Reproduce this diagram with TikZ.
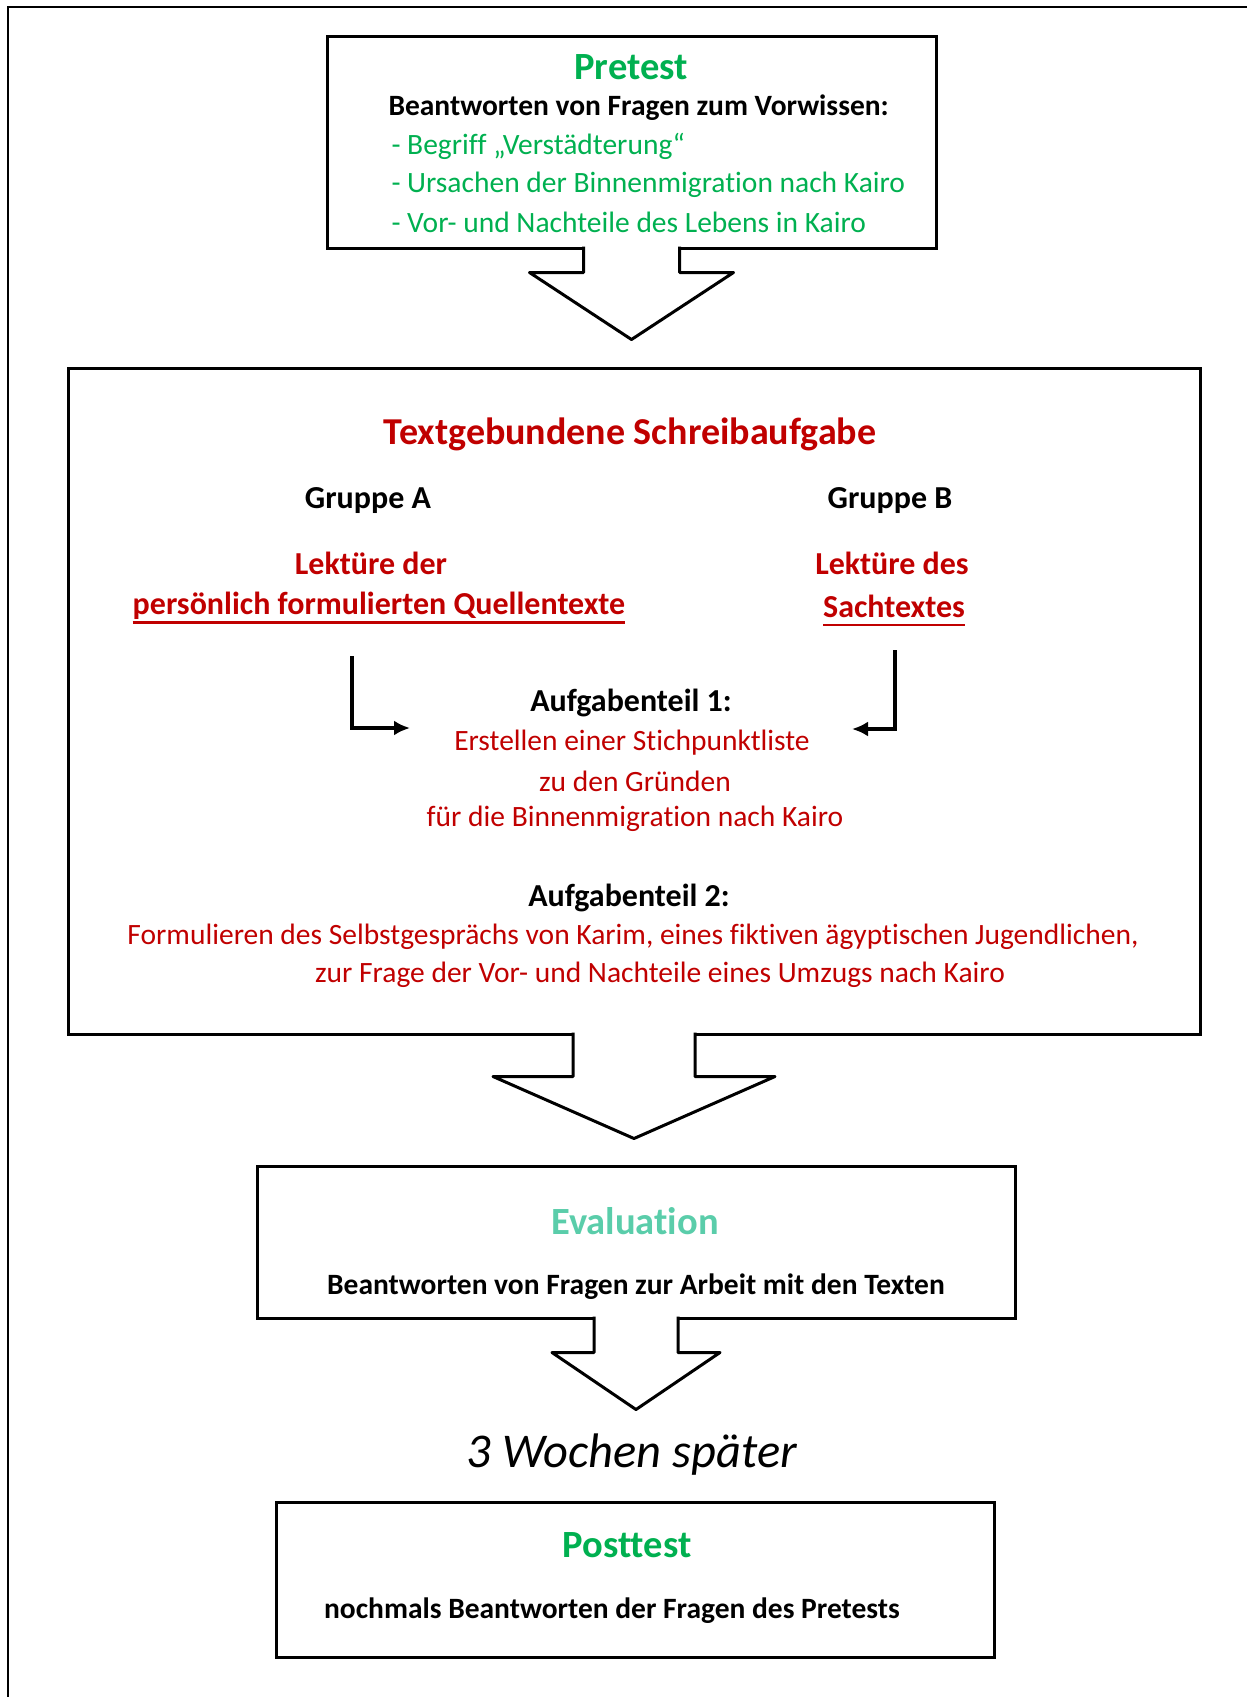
\documentclass[tikz,border=0pt]{standalone}
\usepackage{fontspec}
\setmainfont{Carlito}[Ligatures=NoCommon]
\usetikzlibrary{arrows.meta, positioning, calc}

\definecolor{grn}{RGB}{0,176,80}
\definecolor{rd}{RGB}{192,0,0}
\definecolor{evalgrn}{RGB}{90,205,170}

% block arrow under a box: box, half stem, half head, stem length, tip depth
\newcommand{\blockarrow}[5]{%
  \filldraw[bigarrow] ($(#1.south)+(-#2,-3)$) -- ++(0,#4+3)
    -- ($(#1.south)+(-#3,#4)$) -- ($(#1.south)+(0,#5)$)
    -- ($(#1.south)+(#3,#4)$) -- ($(#1.south)+(#2,#4)$) -- ++(0,-#4-3);}
% thick underline, set low like in the word processor
\newcommand{\ulined}[1]{\setbox0\hbox{#1}%
  \rlap{\smash{\rule[-9pt]{\wd0}{2.6pt}}}\box0}

\begin{document}
\begin{tikzpicture}[x=1pt,y=-1pt,
  box/.style={draw, line width=3pt, inner sep=0pt},
  bigarrow/.style={draw, fill=white, line width=3pt, line join=round},
  title/.style={font=\fontsize{38.5}{46}\selectfont\bfseries},
  head/.style={font=\fontsize{38}{46}\selectfont\bfseries},
  txt/.style={font=\fontsize{29.5}{35}\selectfont},
  btxt/.style={font=\fontsize{29.5}{35}\selectfont\bfseries},
  gtxt/.style={font=\fontsize{32}{38}\selectfont\bfseries},
  elbow/.style={line width=3.3pt, -{Latex[length=16pt,width=15pt]}}]

  \useasboundingbox (0,0) rectangle (1247,1697);
  \draw[line width=2pt] (8,1697) -- (8,7) -- (1247,7);

  % boxes
  \node[box, minimum width=609pt, minimum height=212pt] (pretest) at (631.5,142) {};
  \node[box, minimum width=1132pt, minimum height=666pt] (task) at (634,701) {};
  \node[box, minimum width=758pt, minimum height=152pt] (evaluation) at (636,1242) {};
  \node[box, minimum width=718pt, minimum height=155pt] (posttest) at (635,1580) {};

  \blockarrow{pretest}{48}{102}{23}{90}
  \blockarrow{task}{61}{141}{41}{103}
  \blockarrow{evaluation}{42}{84}{33}{90}

  % pretest
  \node[title, grn] (pretitle) at (631,67) {Pretest};
  \node[btxt, anchor=west] (vorwissen) at (385,108) {Beantworten von Fragen zum Vorwissen:};
  \node[txt, grn, anchor=west] (item1) at (388,146) {- Begriff „Verstädterung“};
  \node[txt, grn, anchor=west] (item2) at (388,185) {- Ursachen der Binnenmigration nach Kairo};
  \node[txt, grn, anchor=west] (item3) at (388,222) {- Vor- und Nachteile des Lebens in Kairo};

  % schreibaufgabe
  \node[head, rd] (tasktitle) at (630,434) {Textgebundene Schreibaufgabe};
  \node[gtxt] (gruppeA) at (368,501) {Gruppe A};
  \node[gtxt] (gruppeB) at (890,501) {Gruppe B};
  \node[gtxt, rd] (lektA) at (371,563) {Lektüre der};
  \node[gtxt, rd] (quellen) at (379,606) {\ulined{persönlich formulierten Quellentexte}};
  \node[gtxt, rd] (lektB) at (892,563) {Lektüre des};
  \node[gtxt, rd] (sach) at (894,606) {\ulined{Sachtextes}};

  \node[gtxt] (teil1) at (631,703) {Aufgabenteil 1:};
  \node[txt, rd] (stich) at (632,743) {Erstellen einer Stichpunktliste};
  \node[txt, rd] (gruende) at (635,781) {zu den Gründen};
  \node[txt, rd] (binnen) at (635,819) {für die Binnenmigration nach Kairo};

  \coordinate (la) at (352,656);
  \coordinate (lb) at (410,728);
  \coordinate (ra) at (895,650);
  \coordinate (rb) at (852,729);
  \draw[elbow] (la) |- (lb);
  \draw[elbow] (ra) |- (rb);

  \node[gtxt] (teil2) at (629,898) {Aufgabenteil 2:};
  \node[txt, rd] (karim) at (633,937) {Formulieren des Selbstgesprächs von Karim, eines fiktiven ägyptischen Jugendlichen,};
  \node[txt, rd] (umzug) at (660,975) {zur Frage der Vor- und Nachteile eines Umzugs nach Kairo};

  % evaluation
  \node[title, evalgrn] (evaltitle) at (635,1221) {Evaluation};
  \node[btxt] (arbeit) at (636,1287) {Beantworten von Fragen zur Arbeit mit den Texten};

  \node[font=\fontsize{48.5}{56}\selectfont\itshape] (wochen) at (632,1455) {3 Wochen später};

  % posttest
  \node[title, grn] (posttitle) at (627,1545) {Posttest};
  \node[btxt] (nochmals) at (612,1611) {nochmals Beantworten der Fragen des Pretests};
\end{tikzpicture}
\end{document}
